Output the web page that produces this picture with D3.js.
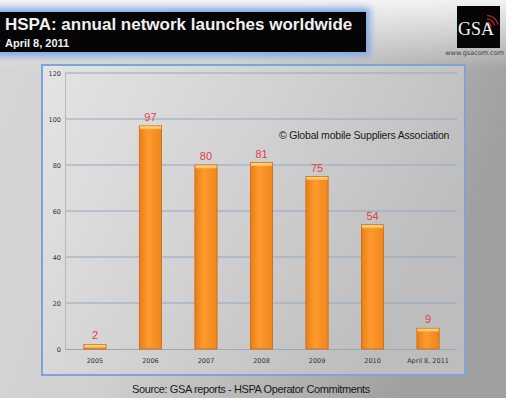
<!DOCTYPE html>
<html>
<head>
<meta charset="utf-8">
<script src="https://cdn.jsdelivr.net/npm/d3@7"></script>
<style>
  html, body { margin: 0; padding: 0; background: #cfcfcf; }
  svg { display: block; }
</style>
</head>
<body>
<svg id="chart" width="506" height="398"></svg>
<script>
// Annual HSPA network launches
const categories = ["2005", "2006", "2007", "2008", "2009", "2010", "April 8, 2011"];
const launches = [2, 97, 80, 81, 75, 54, 9];
const yTicks = [0, 20, 40, 60, 80, 100, 120];

const titleText = "HSPA: annual network launches worldwide";
const dateText = "April 8, 2011";
const creditText = "\u00A9 Global mobile Suppliers Association";
const sourceText = "Source: GSA reports - HSPA Operator Commitments";

const W = 506, H = 398;
const svg = d3.select("#chart");
const defs = svg.append("defs");

// page background: light on the left, darker toward the right edge
const bg = defs.append("linearGradient").attr("id", "bg").attr("x1", 0).attr("x2", 1).attr("y1", 0).attr("y2", 0.3);
bg.append("stop").attr("offset", "0%").attr("stop-color", "#d6d6d6");
bg.append("stop").attr("offset", "45%").attr("stop-color", "#d0d0d0");
bg.append("stop").attr("offset", "100%").attr("stop-color", "#a0a0a0");

const topFade = defs.append("linearGradient").attr("id", "topFade").attr("x1", 0).attr("x2", 0).attr("y1", 0).attr("y2", 1);
topFade.append("stop").attr("offset", "0%").attr("stop-color", "#f6f6f6").attr("stop-opacity", 0.95);
topFade.append("stop").attr("offset", "100%").attr("stop-color", "#f4f4f4").attr("stop-opacity", 0);

// chart panel fill
const panel = defs.append("linearGradient").attr("id", "panel").attr("x1", 0).attr("x2", 1).attr("y1", 0).attr("y2", 0.4);
panel.append("stop").attr("offset", "0%").attr("stop-color", "#e4e4e4");
panel.append("stop").attr("offset", "50%").attr("stop-color", "#d2d2d2");
panel.append("stop").attr("offset", "100%").attr("stop-color", "#bdbdbd");

// bar body gradient
const barGrad = defs.append("linearGradient").attr("id", "barGrad").attr("x1", 0).attr("x2", 1).attr("y1", 0).attr("y2", 0);
barGrad.append("stop").attr("offset", "0%").attr("stop-color", "#ea7e16");
barGrad.append("stop").attr("offset", "40%").attr("stop-color", "#fd9a2e");
barGrad.append("stop").attr("offset", "100%").attr("stop-color", "#f0861a");

const capGrad = defs.append("linearGradient").attr("id", "capGrad").attr("x1", 0).attr("x2", 0).attr("y1", 0).attr("y2", 1);
capGrad.append("stop").attr("offset", "0%").attr("stop-color", "#ffe08a");
capGrad.append("stop").attr("offset", "100%").attr("stop-color", "#fbb24a");

const glow = defs.append("filter").attr("id", "glow").attr("x", "-10%").attr("y", "-50%").attr("width", "120%").attr("height", "200%");
glow.append("feGaussianBlur").attr("stdDeviation", 3.5);

svg.append("rect").attr("width", W).attr("height", H).attr("fill", "url(#bg)");
svg.append("rect").attr("width", W).attr("height", 70).attr("fill", "url(#topFade)");

// title banner with a soft blue glow
svg.append("rect").attr("x", -6).attr("y", 8).attr("width", 376).attr("height", 48)
  .attr("fill", "#7aa8e6").attr("filter", "url(#glow)");
svg.append("rect").attr("x", 0).attr("y", 12).attr("width", 366).attr("height", 40).attr("fill", "#050505");
svg.append("text").attr("x", 5).attr("y", 30)
  .attr("font-family", "Liberation Sans, Arial, sans-serif").attr("font-weight", "bold")
  .attr("font-size", 17).attr("fill", "#f0f0f0").text(titleText);
svg.append("text").attr("x", 5).attr("y", 47)
  .attr("font-family", "Liberation Sans, Arial, sans-serif").attr("font-weight", "bold")
  .attr("font-size", 11).attr("fill", "#f0f0f0").text(dateText);

// logo
svg.append("rect").attr("x", 457).attr("y", 6).attr("width", 43).attr("height", 42).attr("fill", "#050505");
svg.append("text").attr("x", 476).attr("y", 35).attr("text-anchor", "middle")
  .attr("font-family", "Liberation Serif, Times New Roman, serif")
  .attr("font-size", 18).attr("fill", "#f4f4f4").text("GSA");
[5, 8.5, 12].forEach(r => {
  svg.append("path")
    .attr("d", d3.arc()({ innerRadius: r, outerRadius: r + 1.2, startAngle: 0.1, endAngle: 1.3 }))
    .attr("transform", "translate(486,28)")
    .attr("fill", "#c0282a");
});
svg.append("text").attr("x", 504).attr("y", 55).attr("text-anchor", "end")
  .attr("font-family", "DejaVu Sans, sans-serif").attr("font-size", 6.5).attr("fill", "#444")
  .text("www.gsacom.com");

// chart panel and frame
svg.append("rect").attr("x", 42).attr("y", 65).attr("width", 423).attr("height", 310)
  .attr("fill", "url(#panel)").attr("stroke", "#7ea3d8").attr("stroke-width", 2);

const x = d3.scaleBand().domain(categories).range([65, 458]).paddingInner(0.6).paddingOuter(0.34);
const y = d3.scaleLinear().domain([0, 120]).range([349, 73]);

// gridlines
svg.append("g").selectAll("line").data(yTicks.filter(d => d > 0)).join("line")
  .attr("x1", 65).attr("x2", 457).attr("y1", d => y(d)).attr("y2", d => y(d))
  .attr("stroke", "#93a8c2").attr("stroke-width", 1);

// y axis
const yAxis = svg.append("g").attr("transform", "translate(65,0)")
  .call(d3.axisLeft(y).tickValues(yTicks).tickSize(0).tickPadding(4));
yAxis.select(".domain").attr("stroke", "#b8b8b8");
yAxis.selectAll("text").attr("font-family", "DejaVu Sans, sans-serif").attr("font-size", 6.5).attr("fill", "#333");

// x axis
const xAxis = svg.append("g").attr("transform", `translate(0,${y(0)})`)
  .call(d3.axisBottom(x).tickSize(0).tickPadding(9));
xAxis.select(".domain").attr("stroke", "#9aa8b8").attr("d", `M65,0.5H457`);
xAxis.selectAll("text").attr("font-family", "DejaVu Sans, sans-serif").attr("font-size", 6.5).attr("fill", "#333");

// bars
const bars = svg.append("g").selectAll("g").data(categories.map((c, i) => ({ c, v: launches[i] }))).join("g");
bars.append("rect")
  .attr("x", d => x(d.c)).attr("y", d => y(d.v))
  .attr("width", x.bandwidth()).attr("height", d => y(0) - y(d.v))
  .attr("fill", "url(#barGrad)").attr("stroke", "#c8661a").attr("stroke-width", 0.8);
bars.append("rect")
  .attr("x", d => x(d.c) + 0.5).attr("y", d => y(d.v) + 0.4)
  .attr("width", x.bandwidth() - 1).attr("height", d => Math.min(3, y(0) - y(d.v) - 0.8))
  .attr("fill", "url(#capGrad)");

// value labels
bars.append("text")
  .attr("x", d => x(d.c) + x.bandwidth() / 2).attr("y", d => y(d.v) - 5)
  .attr("text-anchor", "middle")
  .attr("font-family", "Liberation Sans, Arial, sans-serif").attr("font-size", 11)
  .attr("fill", "#e0404e").text(d => d.v);

// credit line
svg.append("text").attr("x", 279).attr("y", 139)
  .attr("font-family", "Liberation Sans, Arial, sans-serif").attr("font-size", 10.5)
  .attr("letter-spacing", -0.2).attr("fill", "#1a1a1a").text(creditText);

// source line
svg.append("text").attr("x", 251).attr("y", 393).attr("text-anchor", "middle")
  .attr("font-family", "Liberation Sans, Arial, sans-serif").attr("font-size", 11)
  .attr("letter-spacing", -0.4).attr("fill", "#1a1a1a").text(sourceText);
</script>
</body>
</html>
